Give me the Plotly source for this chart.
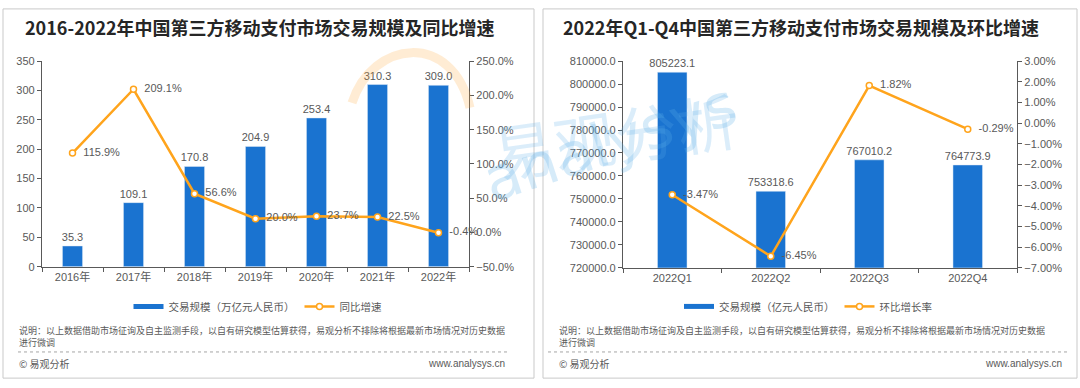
import plotly.graph_objects as go

# ---------------- data ----------------
years = ["2016年", "2017年", "2018年", "2019年", "2020年", "2021年", "2022年"]
annual_volume = [35.3, 109.1, 170.8, 204.9, 253.4, 310.3, 309.0]   # 万亿元
annual_growth = [115.9, 209.1, 56.6, 20.0, 23.7, 22.5, -0.4]        # %

quarters = ["2022Q1", "2022Q2", "2022Q3", "2022Q4"]
quarter_volume = [805223.1, 753318.6, 767010.2, 764773.9]           # 亿元
quarter_growth = [-3.47, -6.45, 1.82, -0.29]                        # %

title_left = "2016-2022年中国第三方移动支付市场交易规模及同比增速"
title_right = "2022年Q1-Q4中国第三方移动支付市场交易规模及环比增速"
name_bar_left = "交易规模（万亿元人民币）"
name_line_left = "同比增速"
name_bar_right = "交易规模（亿元人民币）"
name_line_right = "环比增长率"
note_text = "说明：以上数据借助市场征询及自主监测手段，以自有研究模型估算获得，易观分析不排除将根据最新市场情况对历史数据<br>进行微调"
footer_left = "© 易观分析"
footer_right = "www.analysys.cn"

# ---------------- style ----------------
W, H = 1080, 388
BLUE = "#1A73D0"
ORANGE = "#FFA41C"
GRAY = "#595959"
FONT = "Liberation Sans, Arial, Noto Sans CJK SC, sans-serif"
CJK = "Noto Sans CJK SC, sans-serif"


def X(px):
    return px / W


def Y(py):
    return 1 - py / H


fig = go.Figure()

fig.add_trace(go.Bar(
    x=years, y=annual_volume, name=name_bar_left, xaxis="x", yaxis="y",
    marker=dict(color=BLUE), width=0.33,
    text=[f"{v:.1f}" for v in annual_volume], textposition="outside",
    constraintext="none",
    textfont=dict(color=GRAY, size=11, family=FONT), cliponaxis=False,
    showlegend=False,
))
# legend swatch for the bar series (wide flat rectangle like the original)
fig.add_trace(go.Scatter(
    x=[None], y=[None], name=name_bar_left, xaxis="x", yaxis="y",
    mode="lines", line=dict(color=BLUE, width=5), legend="legend",
))
fig.add_trace(go.Scatter(
    x=years, y=annual_growth, name=name_line_left, xaxis="x", yaxis="y2",
    mode="lines+markers+text",
    line=dict(color=ORANGE, width=2.5),
    marker=dict(size=6, color="white", line=dict(color=ORANGE, width=1.5)),
    text=[f"  {v:.1f}%" for v in annual_growth], textposition="middle right",
    textfont=dict(color=GRAY, size=11, family=FONT), cliponaxis=False,
    legend="legend",
))
fig.add_trace(go.Bar(
    x=quarters, y=quarter_volume, name=name_bar_right, xaxis="x2", yaxis="y3",
    marker=dict(color=BLUE), width=0.3,
    text=[f"{v:.1f}" for v in quarter_volume], textposition="outside",
    constraintext="none",
    textfont=dict(color=GRAY, size=11, family=FONT), cliponaxis=False,
    showlegend=False,
))
fig.add_trace(go.Scatter(
    x=[None], y=[None], name=name_bar_right, xaxis="x2", yaxis="y3",
    mode="lines", line=dict(color=BLUE, width=5), legend="legend2",
))
fig.add_trace(go.Scatter(
    x=quarters, y=quarter_growth, name=name_line_right, xaxis="x2", yaxis="y4",
    mode="lines+markers+text",
    line=dict(color=ORANGE, width=2.5),
    marker=dict(size=6, color="white", line=dict(color=ORANGE, width=1.5)),
    text=[f"  {v:.2f}%" for v in quarter_growth], textposition="middle right",
    textfont=dict(color=GRAY, size=11, family=FONT), cliponaxis=False,
    legend="legend2",
))

axis_common = dict(showline=True, linecolor=GRAY, linewidth=1.2, ticks="outside",
                   ticklen=4, tickcolor=GRAY, showgrid=False, zeroline=False,
                   tickfont=dict(color=GRAY, size=11, family=FONT))

top, bottom = Y(57), Y(269)

fig.update_layout(
    width=W, height=H, margin=dict(l=0, r=0, t=0, b=0),
    paper_bgcolor="white", plot_bgcolor="rgba(0,0,0,0)",
    showlegend=True,
    xaxis=dict(domain=[X(42), X(469)], anchor="y", type="category",
               tickson="boundaries", **axis_common),
    yaxis=dict(domain=[bottom, top], anchor="x", range=[0, 350], dtick=50,
               **axis_common),
    yaxis2=dict(overlaying="y", anchor="x", side="right", range=[-50, 250],
                dtick=50, tickformat=".1f", ticksuffix="%", **axis_common),
    xaxis2=dict(domain=[X(623), X(1017)], anchor="y3", type="category",
                tickson="boundaries", **axis_common),
    yaxis3=dict(domain=[Y(270), top], anchor="x2", range=[720000, 810000],
                dtick=10000, tickformat=".1f", separatethousands=False,
                **axis_common),
    yaxis4=dict(overlaying="y3", anchor="x2", side="right", range=[-7, 3],
                dtick=1, tickformat=".2f", ticksuffix="%", **axis_common),
    legend=dict(orientation="h", x=X(258), y=Y(310), xanchor="center",
                yanchor="middle", font=dict(color=GRAY, size=10.5, family=CJK),
                bgcolor="rgba(0,0,0,0)", itemwidth=30),
    legend2=dict(orientation="h", x=X(808), y=Y(310), xanchor="center",
                 yanchor="middle", font=dict(color=GRAY, size=10.5, family=CJK),
                 bgcolor="rgba(0,0,0,0)", itemwidth=30),
)

shapes = []
# panel borders
for x0, x1 in [(3, 534), (543, 1077)]:
    shapes.append(dict(type="rect", xref="paper", yref="paper",
                       x0=X(x0), x1=X(x1), y0=Y(384), y1=Y(3),
                       line=dict(color="#C9C9C9", width=1), layer="below"))
# dashed separators
for x0, x1 in [(18, 510), (548, 1068)]:
    shapes.append(dict(type="line", xref="paper", yref="paper",
                       x0=X(x0), x1=X(x1), y0=Y(357), y1=Y(357),
                       line=dict(color="#A6A6A6", width=1, dash="dot")))
# faint orange watermark arc
shapes.append(dict(type="path", xref="paper", yref="paper",
                   path=f"M {X(352)},{Y(100)} C {X(372)},{Y(35)} {X(452)},{Y(25)} {X(470)},{Y(105)}",
                   line=dict(color="rgba(255,170,60,0.22)", width=9)))
fig.update_layout(shapes=shapes)

ann = []
# watermark
ann.append(dict(text="analysys", x=X(610), y=Y(62), xref="paper", yref="paper",
                showarrow=False, textangle=-18,
                font=dict(size=60, color="rgba(90,175,230,0.25)", family="DejaVu Sans")))
ann.append(dict(text="易观分析", x=X(615), y=Y(132), xref="paper", yref="paper",
                showarrow=False, textangle=-8,
                font=dict(size=62, color="rgba(90,175,230,0.22)", family=CJK)))
# titles
for txt, cx in [(title_left, 260), (title_right, 801)]:
    ann.append(dict(text=f"<b>{txt}</b>", x=X(cx), y=Y(22), xref="paper", yref="paper",
                    showarrow=False, xanchor="center", yanchor="middle",
                    font=dict(size=18, color="#262626", family=CJK)))
# notes and footers
for lx, rx in [(17, 507), (557, 1064)]:
    ann.append(dict(text=note_text, x=X(lx), y=Y(341), xref="paper", yref="paper",
                    showarrow=False, xanchor="left", yanchor="middle", align="left",
                    font=dict(size=9, color=GRAY, family=CJK)))
    ann.append(dict(text=footer_left, x=X(lx), y=Y(369), xref="paper", yref="paper",
                    showarrow=False, xanchor="left", yanchor="middle",
                    font=dict(size=10, color=GRAY, family=CJK)))
    ann.append(dict(text=footer_right, x=X(rx), y=Y(369), xref="paper", yref="paper",
                    showarrow=False, xanchor="right", yanchor="middle",
                    font=dict(size=10, color=GRAY, family=FONT)))
fig.update_layout(annotations=ann)

fig.write_html(
    "out.html",
    config={"displayModeBar": False},
    post_script=(
        "document.documentElement.style.margin='0';"
        "document.body.style.margin='0';"
        "document.body.style.overflow='hidden';"
    ),
)
